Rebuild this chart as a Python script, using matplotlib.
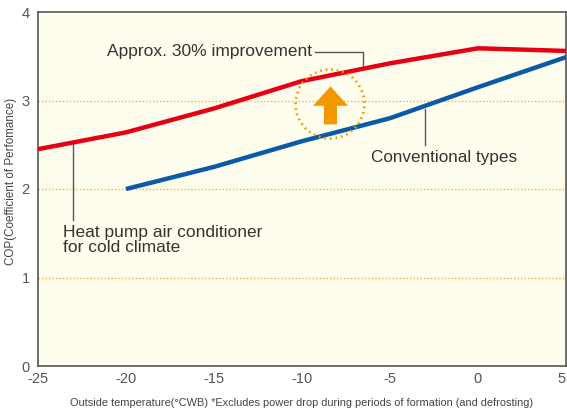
import matplotlib
matplotlib.use("Agg")
import matplotlib.pyplot as plt
from matplotlib.patches import Ellipse

# Data
temps_cold = [-25, -20, -15, -10, -5, 0, 5]
cop_cold = [2.45, 2.64, 2.91, 3.22, 3.42, 3.59, 3.56]
temps_conv = [-20, -15, -10, -5, 0, 5]
cop_conv = [2.0, 2.25, 2.54, 2.80, 3.15, 3.49]
xticks = [-25, -20, -15, -10, -5, 0, 5]
yticks = [0, 1, 2, 3, 4]

plt.rcParams['font.family'] = ['Liberation Sans', 'DejaVu Sans']
plt.rcParams['axes.unicode_minus'] = False

fig = plt.figure(figsize=(5.67, 4.08), dpi=100)
ax = fig.add_axes([38/567, 42/408, 528/567, 354/408])
ax.set_facecolor('#FFFDEE')
ax.set_xlim(-25, 5)
ax.set_ylim(0, 4)

for y in [1, 2, 3]:
    ax.axhline(y, color='#F0B030', lw=1.0, ls=(0, (1, 1.5)), zorder=1)

ax.plot(temps_cold, cop_cold, color='#E60012', lw=3.2, solid_capstyle='butt', zorder=3)
ax.plot(temps_conv, cop_conv, color='#0A5AAA', lw=3.2, solid_capstyle='butt', zorder=3)

lc = '#555555'
# leader lines
ax.plot([-9.25, -6.55, -6.55], [3.55, 3.55, 3.38], color=lc, lw=1.0, zorder=2)
ax.plot([-3.0, -3.0], [2.90, 2.50], color=lc, lw=1.0, zorder=2)
ax.plot([-23.0, -23.0], [2.52, 1.65], color=lc, lw=1.0, zorder=2)

tc = '#333333'
ax.text(-9.45, 3.55, 'Approx. 30% improvement', ha='right', va='center', fontsize=12.5, color=tc)
ax.text(-6.1, 2.36, 'Conventional types', ha='left', va='center', fontsize=12.3, color=tc)
ax.text(-23.6, 1.59, 'Heat pump air conditioner\nfor cold climate', ha='left', va='top',
        fontsize=12.5, color=tc, linespacing=1.0)

# circle and arrow
circ = Ellipse((-8.41, 2.96), width=3.92, height=0.78, fill=False, edgecolor='#F39800',
               lw=2.0, ls=(0, (0.6, 1.4)), zorder=4)
ax.add_patch(circ)
ax.arrow(-8.38, 2.73, 0, 0.43, width=0.74, head_width=1.99, head_length=0.22,
         length_includes_head=True, color='#F39800', lw=0, zorder=5)

ax.set_xticks(xticks)
ax.set_yticks(yticks)
ax.tick_params(length=0, labelsize=10.5, labelcolor='#555555', pad=4)
ax.tick_params(axis='y', pad=6)
xl = ax.get_xticklabels()
xl[-1].set_horizontalalignment('right')
for s in ax.spines.values():
    s.set_color('#555555')
    s.set_linewidth(1.2)

ax.set_ylabel('COP(Coefficient of Perfomance)', fontsize=8.4, color='#444444')
ax.yaxis.set_label_coords(-0.040, 0.52)
ax.set_xlabel('Outside temperature(°CWB) *Excludes power drop during periods of formation (and defrosting)',
              fontsize=7.9, color='#444444', labelpad=9)

fig.savefig('out.png', dpi=100)
